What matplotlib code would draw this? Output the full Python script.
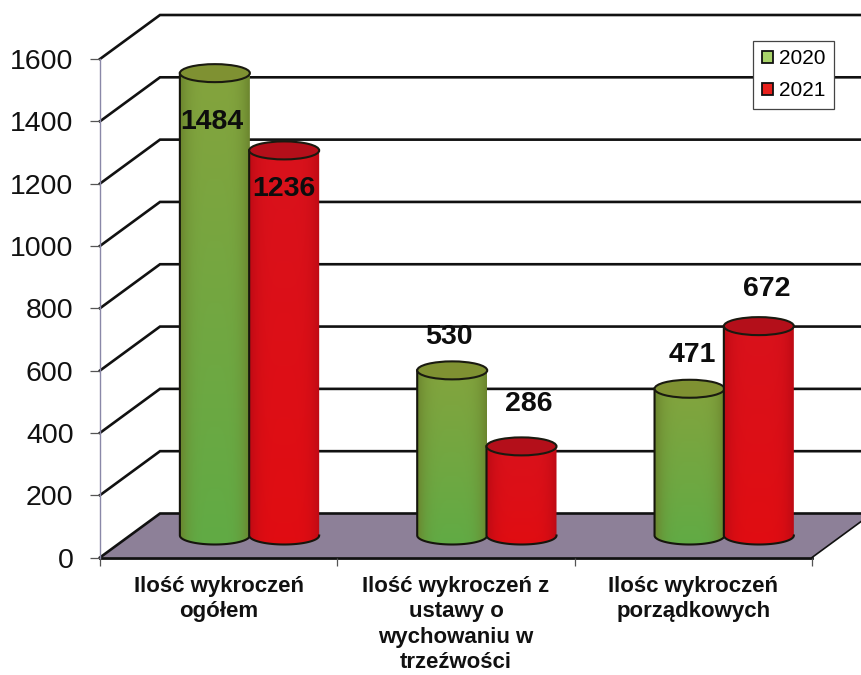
import numpy as np
import matplotlib
matplotlib.use("Agg")
import matplotlib.pyplot as plt
from matplotlib.patches import Polygon, Patch, PathPatch, Ellipse
from matplotlib.path import Path

plt.rcParams['font.family'] = ['Liberation Sans', 'DejaVu Sans']

# ---- data ----
categories = ["Ilość wykroczeń\nogółem",
              "Ilość wykroczeń z\nustawy o\nwychowaniu w\ntrzeźwości",
              "Ilośc wykroczeń\nporządkowych"]
series_names = ["2020", "2021"]
values_2020 = [1484, 530, 471]
values_2021 = [1236, 286, 672]
y_ticks = [0, 200, 400, 600, 800, 1000, 1200, 1400, 1600]
# pixel offsets of the value labels from the top of each cylinder
label_off_2020 = [(-3, -49), (-3, 33), (3, 34)]
label_off_2021 = [(0, -39), (7, 42), (8, 37)]

W, H = 862, 675
L, R, B, T = 100, 812, 557.5, 59
fig = plt.figure(figsize=(W / 100, H / 100), dpi=100, facecolor='white')
ax = fig.add_axes([L / W, 1 - B / H, (R - L) / W, (B - T) / H])

px_x = 3 / (R - L)        # data units per pixel, x
px_y = 1600 / (B - T)     # data units per pixel, y
DX, DY = 60 * px_x, 44 * px_y
LIFT = 22 * px_y
BAR_W = 70 * px_x
ELL_H = 18 * px_y
GROUP_SHIFT = 0.13
SPREAD = 0.146

GRID = '#111111'
# floor
ax.add_patch(Polygon([(0, 0), (3, 0), (3 + DX, DY), (DX, DY)], closed=True,
                     facecolor='#8d8098', edgecolor='none', clip_on=False, zorder=1))
ax.plot([3, 3 + DX], [0, DY], color=GRID, lw=1.2, clip_on=False, zorder=1.5)
ax.plot([0, 3], [0, 0], color=GRID, lw=2.0, clip_on=False, zorder=1.5)
# wall grid
for v in y_ticks:
    ax.plot([0, DX, 3 + DX], [v, v + DY, v + DY], color=GRID, lw=1.9,
            clip_on=False, zorder=1.5, solid_joinstyle='miter')


def cylinder_image(top, bottom, edge):
    ys = np.linspace(0, 1, 80)[:, None, None]
    xs = np.linspace(-1, 1, 80)[None, :, None]
    base = np.array(top)[None, None, :] * (1 - ys) + np.array(bottom)[None, None, :] * ys
    shade = np.abs(xs) ** 4
    img = base * (1 - shade) + np.array(edge)[None, None, :] * shade
    return np.clip(img, 0, 1)


def cylinder(xc, value, top, bottom, edge, lid, z):
    y0 = LIFT
    y1 = value + LIFT
    a = BAR_W / 2
    b = ELL_H / 2
    t = np.linspace(np.pi, 2 * np.pi, 40)
    low = np.column_stack([xc + a * np.cos(t), y0 + b * np.sin(t)])
    up = np.column_stack([xc + a * np.cos(t[::-1]), y1 + b * np.sin(t[::-1])])
    verts = np.vstack([low, up, low[:1]])
    path = Path(verts, closed=True)
    im = ax.imshow(cylinder_image(top, bottom, edge), aspect='auto', origin='upper',
                   extent=(xc - a, xc + a, y0 - b, y1 + b), zorder=z, interpolation='bilinear')
    clip = PathPatch(path, transform=ax.transData)
    im.set_clip_path(clip)
    im.set_clip_box(fig.bbox)
    # dark left side and bottom rim only; the right side of the scan fades out
    rim_x = np.concatenate([[xc - a], low[:, 0]])
    rim_y = np.concatenate([[y1], low[:, 1]])
    ax.plot(rim_x, rim_y, color='#15150c', lw=1.5, clip_on=False, zorder=z + 0.2)
    ax.add_patch(Ellipse((xc, y1), BAR_W, ELL_H, facecolor=lid, edgecolor='#1a1a10', lw=1.5,
                         clip_on=False, zorder=z + 0.3))


GREEN = dict(top=(0.52, 0.64, 0.24), bottom=(0.38, 0.67, 0.27), edge=(0.42, 0.52, 0.18), lid='#7f9132')
RED = dict(top=(0.85, 0.07, 0.11), bottom=(0.88, 0.05, 0.07), edge=(0.74, 0.04, 0.08), lid='#b40f1a')

for i, (a_val, b_val) in enumerate(zip(values_2020, values_2021)):
    xc = i + 0.5 + GROUP_SHIFT
    cylinder(xc - SPREAD, a_val, z=3, **GREEN)
    cylinder(xc + SPREAD, b_val, z=4, **RED)
    for xb, val, off in ((xc - SPREAD, a_val, label_off_2020[i]),
                         (xc + SPREAD, b_val, label_off_2021[i])):
        ax.annotate(str(val), (xb, val + LIFT), xytext=(off[0] * 0.72, off[1] * 0.72),
                    textcoords='offset points', ha='center', va='center',
                    fontsize=20.5, fontweight='bold', color='#0d0d0d',
                    annotation_clip=False, zorder=6)

ax.set_xlim(0, 3)
ax.set_ylim(0, 1600)
ax.patch.set_alpha(0)
for s in ('top', 'right'):
    ax.spines[s].set_visible(False)
ax.spines['left'].set_color('#8a88a8')
ax.spines['left'].set_linewidth(1.0)
ax.spines['bottom'].set_visible(False)
ax.set_yticks(y_ticks)
ax.set_xticks([0, 1, 2, 3])
ax.set_xticklabels([])
ax.set_xticks([0.5, 1.5, 2.5], minor=True)
ax.set_xticklabels(categories, minor=True, fontsize=16, fontweight='bold', color='#111111',
                   linespacing=1.28, va='top')
ax.tick_params(axis='x', which='minor', length=0, pad=13)
ax.tick_params(axis='x', which='major', length=6, width=0.9, color='#555555')
ax.tick_params(axis='y', length=7, width=0.9, color='#555555', pad=12, labelsize=20.5, labelcolor='#111111')

handles = [Patch(facecolor='#a9d46a', edgecolor='#111111', lw=1.3, label=series_names[0]),
           Patch(facecolor='#e8201c', edgecolor='#111111', lw=1.3, label=series_names[1])]
leg = ax.legend(handles=handles, loc='upper left',
                bbox_to_anchor=(753 / W, 1 - 40.5 / H), bbox_transform=fig.transFigure,
                fontsize=15, frameon=True, fancybox=False, framealpha=1, edgecolor='#444444',
                handlelength=0.55, handleheight=0.55, handletextpad=0.28, borderpad=0.42,
                labelspacing=0.62, borderaxespad=0)
leg.get_frame().set_linewidth(0.9)
leg.set_zorder(7)

fig.savefig('out.png', dpi=100, facecolor='white')
